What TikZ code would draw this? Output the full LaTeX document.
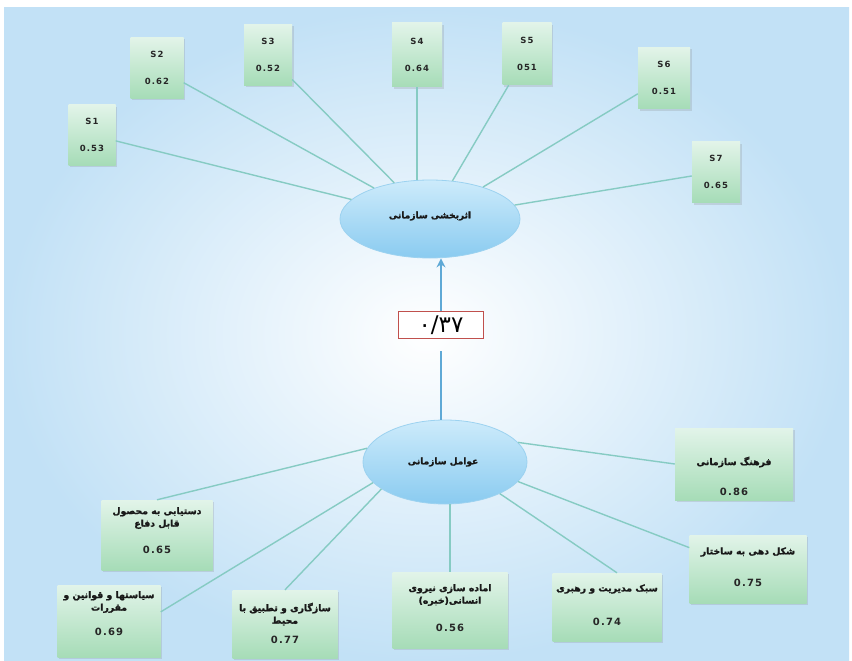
\documentclass[tikz,border=0pt]{standalone}
\usepackage{fontspec}
\setmainfont{DejaVu Sans}
\newfontfamily\pfont[Script=Arabic, BoldFeatures={FakeBold=1.6}]{DejaVu Sans}
\newfontfamily\nfont[LetterSpace=12]{DejaVu Sans}
\newfontfamily\dfont{DejaVu Sans}
\TeXXeTstate=1
\usetikzlibrary{shadows,arrows.meta,shapes.geometric}
\newcommand\RL[1]{\beginR #1\endR}
\definecolor{bgout}{HTML}{C2E1F6}
\definecolor{gtop}{HTML}{E2F4E9}
\definecolor{gbot}{HTML}{A6DCB7}
\definecolor{etop}{HTML}{CDEBFB}
\definecolor{ebot}{HTML}{8ACBF0}
\definecolor{ellb}{HTML}{9CD2F0}
\definecolor{linec}{HTML}{86CBC3}
\definecolor{arrc}{HTML}{5FA9D6}
\definecolor{redc}{HTML}{C0504D}
\tikzset{
  gbox/.style={rectangle, draw=none, top color=gtop, bottom color=gbot,
    drop shadow={opacity=0.22, shadow xshift=1.5pt, shadow yshift=-2pt}, inner sep=0pt},
  stxt/.style={font=\nfont\bfseries\fontsize{8.5}{9}\selectfont, text=black!85, inner sep=0pt},
  ptxt/.style={font=\pfont\bfseries\fontsize{9.3}{12.5}\selectfont, align=center, text=black!90, inner sep=0pt},
  ntxt/.style={font=\nfont\bfseries\fontsize{10}{12}\selectfont, text=black!85, inner sep=0pt},
  ell/.style={ellipse, draw=ellb, line width=0.8pt, top color=etop, bottom color=ebot, inner sep=0pt},
  conn/.style={draw=linec, line width=1.4pt},
  arr/.style={draw=arrc, line width=2.6pt},
}
\begin{document}
\begin{tikzpicture}[x=1pt,y=-1pt]
\useasboundingbox (0,0) rectangle (852,661);
\fill[white] (0,0) rectangle (852,661);
\shade[inner color=white, outer color=bgout] (4,8) rectangle (849,661);

% ellipses
\node[ell, minimum width=180pt, minimum height=78pt] (top) at (430,219) {};
\node[ptxt, font=\pfont\bfseries\fontsize{9}{12}\selectfont] (topt) at (430,216) {\RL{اثربخشی سازمانی}};
\node[ell, minimum width=164pt, minimum height=84pt] (bot) at (445,462) {};
\node[ptxt, font=\pfont\bfseries\fontsize{9}{12}\selectfont] (bott) at (443,462) {\RL{عوامل سازمانی}};

% label box and arrow
\node[draw=redc, line width=1.2pt, fill=white, minimum width=85pt, minimum height=27pt,
  inner sep=0pt, font=\dfont\fontsize{23}{23}\selectfont] (lab) at (441,325) {۰/۳۷};
\draw[arr, -{Stealth[length=9pt,width=9pt]}] (lab.north) -- (lab.north |- top.south);
\draw[arr] (lab.south |- bot.north) -- ([yshift=-12pt]lab.south);

% top boxes
\node[gbox, minimum width=47pt, minimum height=60pt] (S1) at (92,135) {};
\node[gbox, minimum width=53pt, minimum height=61pt] (S2) at (157,68) {};
\node[gbox, minimum width=48pt, minimum height=61pt] (S3) at (268,55) {};
\node[gbox, minimum width=50pt, minimum height=64pt] (S4) at (417,55) {};
\node[gbox, minimum width=49pt, minimum height=62pt] (S5) at (527,54) {};
\node[gbox, minimum width=52pt, minimum height=61pt] (S6) at (664,78) {};
\node[gbox, minimum width=48pt, minimum height=61pt] (S7) at (716,172) {};
\foreach \n/\v in {S1/0.53, S2/0.62, S3/0.52, S4/0.64, S5/051, S6/0.51, S7/0.65}{
  \node[stxt] (\n l) at ([yshift=14pt]\n.center) {\n};
  \node[stxt] (\n v) at ([yshift=-13pt]\n.center) {\v};
}
\draw[conn] (S1) -- (top);
\draw[conn] (S2) -- (top);
\draw[conn] (S3) -- (top);
\draw[conn] (S4) -- (S4 |- top.north);
\draw[conn] (S5) -- (top);
\draw[conn] (S6) -- (top);
\draw[conn] (S7) -- (top);

% bottom boxes
\node[gbox, minimum width=118pt, minimum height=72pt] (fr) at (734,464) {};
\node[ptxt] (frt) at ([yshift=2pt]fr.center) {\RL{فرهنگ سازمانی}};
\node[ntxt] (frv) at ([yshift=-28pt]fr.center) {0.86};

\node[gbox, minimum width=117pt, minimum height=68pt] (shk) at (748,569) {};
\node[ptxt] (shkt) at ([yshift=17pt]shk.center) {\RL{شکل دهی به ساختار}};
\node[ntxt] (shkv) at ([yshift=-14pt]shk.center) {0.75};

\node[gbox, minimum width=109pt, minimum height=68pt] (sbk) at (607,607) {};
\node[ptxt] (sbkt) at ([yshift=18pt]sbk.center) {\RL{سبک مدیریت و رهبری}};
\node[ntxt] (sbkv) at ([yshift=-15pt]sbk.center) {0.74};

\node[gbox, minimum width=115pt, minimum height=76pt] (ama) at (450,610) {};
\node[ptxt] (amat) at ([yshift=15pt]ama.center) {\RL{اماده سازی نیروی}\\\RL{انسانی(خبره)}};
\node[ntxt] (amav) at ([yshift=-18pt]ama.center) {0.56};

\node[gbox, minimum width=105pt, minimum height=68pt] (sz) at (285,624) {};
\node[ptxt] (szt) at ([yshift=10pt]sz.center) {\RL{سازگاری و تطبیق با}\\\RL{محیط}};
\node[ntxt] (szv) at ([yshift=-16pt]sz.center) {0.77};

\node[gbox, minimum width=103pt, minimum height=72pt] (siy) at (109,621) {};
\node[ptxt] (siyt) at ([yshift=19pt]siy.center) {\RL{سیاستها و قوانین و}\\\RL{مقررات}};
\node[ntxt] (siyv) at ([yshift=-11pt]siy.center) {0.69};

\node[gbox, minimum width=111pt, minimum height=70pt] (dst) at (157,535) {};
\node[ptxt] (dstt) at ([yshift=17pt]dst.center) {\RL{دستیابی به محصول}\\\RL{قابل دفاع}};
\node[ntxt] (dstv) at ([yshift=-15pt]dst.center) {0.65};

\draw[conn] (bot.15) -- (fr.west);
\draw[conn] (bot.-15) -- (shk.160);
\draw[conn] (bot.-30) -- ([xshift=10pt]sbk.north);
\draw[conn] (ama.north) -- (ama.north |- bot.south);
\draw[conn] (bot.203) -- (sz.north);
\draw[conn] (bot.196) -- (siy.10);
\draw[conn] (bot.170) -- (dst.north);
\end{tikzpicture}
\end{document}
